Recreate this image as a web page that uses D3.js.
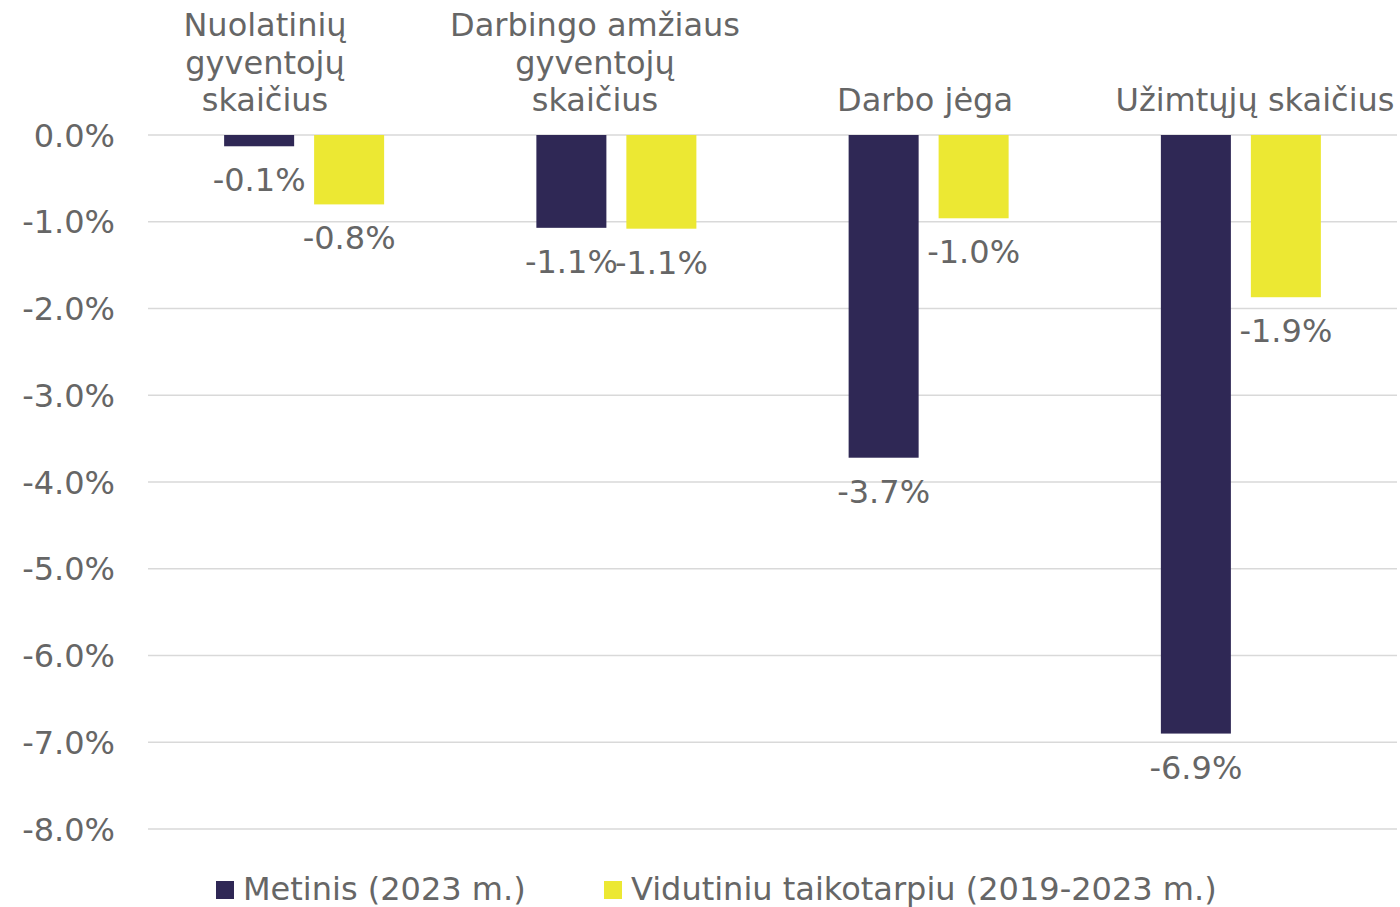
<!DOCTYPE html>
<html>
<head>
<meta charset="utf-8">
<script src="https://cdn.jsdelivr.net/npm/d3@7"></script>
<style>
  body { margin: 0; background: #fff; }
  text { font-family: "DejaVu Sans", Verdana, sans-serif; fill: #666; }
</style>
</head>
<body>
<svg width="1400" height="907"></svg>
<script>
const categories = [
    ["Nuolatinių", "gyventojų", "skaičius"],
    ["Darbingo amžiaus", "gyventojų", "skaičius"],
    ["Darbo jėga"],
    ["Užimtųjų skaičius"]
];
const seriesNames = ["Metinis (2023 m.)", "Vidutiniu taikotarpiu (2019-2023 m.)"];
const metinis = [-0.13, -1.07, -3.72, -6.90];
const vidutiniu = [-0.80, -1.08, -0.96, -1.87];
const yTicks = [0, -1, -2, -3, -4, -5, -6, -7, -8];
const colors = ["#2f2855", "#ece833"];

const svg = d3.select("svg");
const margin = {top: 135, right: 3, bottom: 78, left: 148};
const width = +svg.attr("width") - margin.left - margin.right;
const height = +svg.attr("height") - margin.top - margin.bottom;
const g = svg.append("g").attr("transform", `translate(${margin.left},${margin.top})`);

const idx = d3.range(categories.length);
const series = [metinis, vidutiniu];
// plain hyphen instead of the unicode minus d3.format gives
const pct = d3.formatLocale({decimal: ".", thousands: ",", grouping: [3], currency: ["", ""], minus: "-"}).format(".1f");

const xScale = d3.scaleBand().domain(idx).range([0, width]);
const xInner = d3.scaleBand().domain([0, 1])
    .range([xScale.bandwidth() / 2 - 80, xScale.bandwidth() / 2 + 80])
    .paddingInner(0.222);
const yScale = d3.scaleLinear().domain([0, -8]).range([0, height]);

// gridlines
g.append("g")
    .selectAll("line")
    .data(yTicks)
    .join("line")
    .attr("x1", 0)
    .attr("x2", width)
    .attr("y1", d => yScale(d))
    .attr("y2", d => yScale(d))
    .attr("stroke", "#d9d9d9")
    .attr("stroke-width", 1.5);

// y axis labels
g.append("g")
    .selectAll("text")
    .data(yTicks)
    .join("text")
    .attr("x", -33)
    .attr("y", d => yScale(d))
    .attr("dy", "0.36em")
    .attr("text-anchor", "end")
    .style("font-size", "32px")
    .text(d => pct(d) + "%");

// bars and value labels
series.forEach((values, s) => {
    const grp = g.append("g");
    grp.selectAll("rect")
        .data(idx)
        .join("rect")
        .attr("x", i => xScale(i) + xInner(s))
        .attr("y", yScale(0))
        .attr("width", xInner.bandwidth())
        .attr("height", i => yScale(values[i]) - yScale(0))
        .attr("fill", colors[s]);
    grp.selectAll("text")
        .data(idx)
        .join("text")
        .attr("x", i => xScale(i) + xInner(s) + xInner.bandwidth() / 2)
        .attr("y", i => yScale(values[i]) + 45)
        .attr("text-anchor", "middle")
        .style("font-size", "32px")
        .text(i => pct(values[i]) + "%");
});

// category labels on top, bottom line sits just above the zero line
const xLabel = d3.scaleBand().domain(idx).range([100 - margin.left, 1420 - margin.left]);
categories.forEach((lines, i) => {
    const t = g.append("text")
        .attr("text-anchor", "middle")
        .style("font-size", "32px");
    lines.forEach((line, k) => {
        t.append("tspan")
            .attr("x", xLabel(i) + xLabel.bandwidth() / 2)
            .attr("y", -24 - (lines.length - 1 - k) * 37.5)
            .text(line);
    });
});

// legend
const legend = svg.append("g");
const legendX = [216, 604];
seriesNames.forEach((name, s) => {
    legend.append("rect")
        .attr("x", legendX[s])
        .attr("y", 881)
        .attr("width", 18)
        .attr("height", 18)
        .attr("fill", colors[s]);
    legend.append("text")
        .attr("x", legendX[s] + 27)
        .attr("y", 900)
        .style("font-size", "32px")
        .text(name);
});
</script>
</body>
</html>
